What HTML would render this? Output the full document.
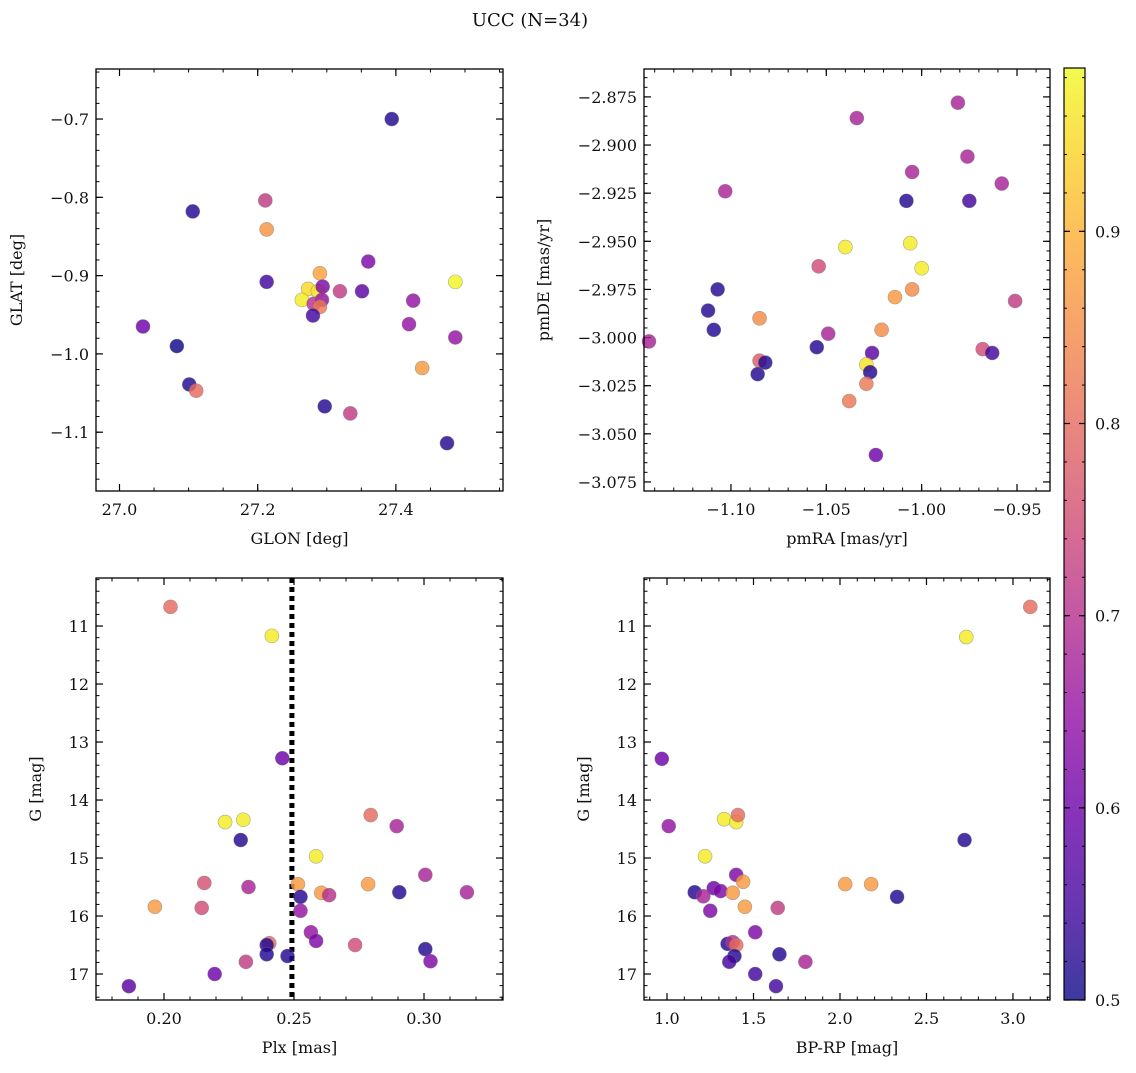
<!DOCTYPE html>
<html><head><meta charset="utf-8"><style>
body{margin:0;background:#fff}
svg text{font-family:"DejaVu Serif","Liberation Serif",serif;fill:#111}
</style></head><body>
<svg id="fig" width="1136" height="1068" viewBox="0 0 1136 1068" xmlns="http://www.w3.org/2000/svg">
<defs><linearGradient id="cbg" x1="0" y1="1" x2="0" y2="0"></linearGradient></defs>
<text x="530" y="26" font-size="18" text-anchor="middle">UCC (N=34)</text>
</svg>
<script>
// Panel 1: GLON / GLAT
const glon=[27.394,27.106,27.211,27.213,27.360,27.213,27.290,27.273,27.264,27.287,27.294,27.319,27.293,27.281,27.290,27.280,27.351,27.425,27.486,27.419,27.486,27.034,27.083,27.101,27.111,27.438,27.297,27.334,27.474];
const glat=[-0.700,-0.818,-0.804,-0.841,-0.882,-0.908,-0.897,-0.917,-0.931,-0.920,-0.914,-0.920,-0.931,-0.936,-0.940,-0.951,-0.920,-0.932,-0.908,-0.962,-0.979,-0.965,-0.990,-1.039,-1.047,-1.018,-1.067,-1.076,-1.114];
const prob1=[0.52,0.52,0.72,0.86,0.62,0.55,0.88,0.95,0.97,0.96,0.62,0.72,0.65,0.7,0.82,0.55,0.58,0.65,0.98,0.65,0.65,0.6,0.5,0.52,0.8,0.87,0.52,0.72,0.52];
// Panel 2: pmRA / pmDE
const pmra=[-0.981,-1.034,-0.976,-1.005,-0.958,-1.103,-1.008,-0.975,-1.040,-1.006,-1.000,-1.054,-1.107,-1.014,-1.005,-1.112,-0.951,-1.085,-1.109,-1.049,-1.021,-1.143,-1.085,-1.055,-1.026,-0.968,-0.963,-1.082,-1.086,-1.029,-1.027,-1.029,-1.038,-1.024];
const pmde=[-2.878,-2.886,-2.906,-2.914,-2.920,-2.924,-2.929,-2.929,-2.953,-2.951,-2.964,-2.963,-2.975,-2.979,-2.975,-2.986,-2.981,-2.990,-2.996,-2.998,-2.996,-3.002,-3.012,-3.005,-3.008,-3.006,-3.008,-3.013,-3.019,-3.014,-3.018,-3.024,-3.033,-3.061];
const prob2=[0.68,0.68,0.68,0.68,0.68,0.68,0.52,0.55,0.97,0.97,0.97,0.75,0.52,0.87,0.85,0.52,0.72,0.85,0.52,0.68,0.85,0.68,0.78,0.52,0.58,0.75,0.55,0.52,0.52,0.96,0.52,0.82,0.82,0.6];
// Panel 3: Plx / G
const plx=[0.2025,0.2415,0.2455,0.2235,0.2305,0.2295,0.2795,0.2895,0.2585,0.2155,0.2515,0.2785,0.3005,0.2325,0.2605,0.2635,0.2525,0.2905,0.3165,0.1965,0.2145,0.2525,0.2565,0.2585,0.2735,0.2405,0.2395,0.2395,0.2475,0.3005,0.3025,0.2315,0.2195,0.1865];
const gmag3=[10.67,11.17,13.28,14.38,14.34,14.69,14.26,14.45,14.97,15.43,15.45,15.45,15.29,15.50,15.60,15.64,15.67,15.59,15.59,15.84,15.86,15.91,16.28,16.43,16.50,16.47,16.50,16.66,16.69,16.57,16.78,16.79,17.00,17.21];
const prob3=[0.8,0.97,0.6,0.97,0.97,0.52,0.8,0.68,0.97,0.76,0.87,0.87,0.68,0.68,0.87,0.7,0.52,0.52,0.68,0.87,0.75,0.65,0.65,0.62,0.75,0.8,0.52,0.52,0.52,0.52,0.62,0.72,0.6,0.58];
const plxLine=[0.2492];
// Panel 4: BP-RP / G
const bprp=[3.10,2.73,0.97,1.01,1.33,1.40,1.41,2.72,1.22,1.40,1.44,2.03,2.18,1.16,1.27,1.31,1.38,1.21,2.33,1.45,1.64,1.25,1.51,1.35,1.38,1.40,1.39,1.65,1.36,1.80,1.51,1.63];
const gmag4=[10.67,11.19,13.29,14.45,14.33,14.38,14.26,14.69,14.97,15.29,15.41,15.45,15.45,15.59,15.52,15.57,15.60,15.66,15.67,15.84,15.86,15.91,16.28,16.48,16.45,16.50,16.69,16.66,16.79,16.79,17.00,17.21];
const prob4=[0.8,0.97,0.6,0.65,0.97,0.97,0.8,0.52,0.97,0.62,0.87,0.87,0.87,0.52,0.6,0.62,0.87,0.68,0.52,0.87,0.72,0.62,0.62,0.52,0.7,0.8,0.52,0.52,0.55,0.68,0.55,0.55];
// ticks
const ticks1x=[27.0,27.2,27.4], ticks1y=[-0.7,-0.8,-0.9,-1.0,-1.1];
const ticks2x=[-1.10,-1.05,-1.00,-0.95], ticks2y=[-2.875,-2.900,-2.925,-2.950,-2.975,-3.000,-3.025,-3.050,-3.075];
const ticks3x=[0.20,0.25,0.30], ticksG=[11,12,13,14,15,16,17];
const ticks4x=[1.0,1.5,2.0,2.5,3.0], ticksCb=[0.5,0.6,0.7,0.8,0.9];
const cbMin=0.5, cbMax=0.985;

const NS="http://www.w3.org/2000/svg";
const svg=document.getElementById('fig');
function mk(tag,attrs,parent){const e=document.createElementNS(NS,tag);for(const k in attrs)e.setAttribute(k,attrs[k]);(parent||svg).appendChild(e);return e;}
const plasma=[[13,8,135],[65,4,157],[106,0,168],[143,13,164],[177,42,144],[204,71,120],[225,100,98],[242,132,75],[252,166,54],[252,206,37],[240,249,33]];
function cmap(t){t=Math.max(0,Math.min(1,t));const f=t*10,i=Math.min(9,Math.floor(f)),r=f-i;const a=plasma[i],b=plasma[i+1];return `rgb(${Math.round(a[0]+(b[0]-a[0])*r)},${Math.round(a[1]+(b[1]-a[1])*r)},${Math.round(a[2]+(b[2]-a[2])*r)})`;}
function pcol(p){return cmap((p-cbMin)/(cbMax-cbMin));}
const minus=s=>s.replace('-','\u2212');

function panel(o){
  const g=mk('g',{});
  
  
  const sx=v=>o.x0+(v-o.xd[0])/(o.xd[1]-o.xd[0])*(o.x1-o.x0);
  const sy=v=>o.y0+(v-o.yd[0])/(o.yd[1]-o.yd[0])*(o.y1-o.y0);
  const xs=Math.abs(o.xt[1]-o.xt[0]), ys=Math.abs(o.yt[1]-o.yt[0]);
  const xlo=Math.min(o.xd[0],o.xd[1]),xhi=Math.max(o.xd[0],o.xd[1]);
  const ylo=Math.min(o.yd[0],o.yd[1]),yhi=Math.max(o.yd[0],o.yd[1]);
  const mxs=xs/o.xsub, mys=ys/o.ysub;
  const xb=Math.min(...o.xt), yb=Math.min(...o.yt);
  for(let k=-60;k<=200;k++){const v=xb+k*mxs;if(v<xlo||v>xhi)continue;const x=sx(v);
    mk('line',{x1:x,x2:x,y1:o.y1,y2:o.y1-3.5,stroke:'#000','stroke-width':1},g);mk('line',{x1:x,x2:x,y1:o.y0,y2:o.y0+3.5,stroke:'#000','stroke-width':1},g);}
  for(let k=-60;k<=200;k++){const v=yb+k*mys;if(v<ylo||v>yhi)continue;const y=sy(v);
    mk('line',{x1:o.x0,x2:o.x0+3.5,y1:y,y2:y,stroke:'#000','stroke-width':1},g);mk('line',{x1:o.x1,x2:o.x1-3.5,y1:y,y2:y,stroke:'#000','stroke-width':1},g);}
  o.xt.forEach(v=>{const x=sx(v);
    mk('line',{x1:x,x2:x,y1:o.y1,y2:o.y1-7,stroke:'#000','stroke-width':1.2},g);mk('line',{x1:x,x2:x,y1:o.y0,y2:o.y0+7,stroke:'#000','stroke-width':1.2},g);
    const t=mk('text',{x:x,y:o.y1+24,'font-size':16,'text-anchor':'middle'},g);t.textContent=minus(v.toFixed(o.xf));
    
    });
  o.yt.forEach(v=>{const y=sy(v);
    mk('line',{x1:o.x0,x2:o.x0+7,y1:y,y2:y,stroke:'#000','stroke-width':1.2},g);mk('line',{x1:o.x1,x2:o.x1-7,y1:y,y2:y,stroke:'#000','stroke-width':1.2},g);
    const t=mk('text',{x:o.x0-7,y:y+6,'font-size':16,'text-anchor':'end'},g);t.textContent=minus(v.toFixed(o.yf));
    
    });
  if(o.vline){o.vline.forEach(v=>{const l=mk('line',{x1:sx(v),x2:sx(v),y1:o.y0,y2:o.y1,stroke:'#000','stroke-width':5,'stroke-dasharray':'5 4'},g);
    
    });}
  o.xs.forEach((v,i)=>{const c=mk('circle',{cx:sx(v),cy:sy(o.ys[i]),r:7,fill:pcol(o.ps[i]),'fill-opacity':0.82,stroke:'#777','stroke-opacity':0.6,'stroke-width':0.6},g);
    
    });
  mk('rect',{x:o.x0,y:o.y0,width:o.x1-o.x0,height:o.y1-o.y0,fill:'none',stroke:'#000','stroke-width':1.3},g);
  const xt=mk('text',{x:(o.x0+o.x1)/2,y:o.y1+53,'font-size':16,'text-anchor':'middle'},g);xt.textContent=o.xl;
  
  
  const cy=(o.y0+o.y1)/2, cx=o.x0-o.ylo;
  const yt=mk('text',{x:cx,y:cy,'font-size':16,'text-anchor':'middle',transform:`rotate(-90 ${cx} ${cy})`},g);yt.textContent=o.yl;
  
  
}
panel({name:'glon-glat-panel',x0:96,x1:503,y0:69,y1:491,xd:[26.966,27.555],yd:[-0.6361,-1.1751],xt:ticks1x,yt:ticks1y,xsub:4,ysub:5,xf:1,yf:1,xs:glon,ys:glat,ps:prob1,xl:'GLON [deg]',yl:'GLAT [deg]',ylo:74});
panel({name:'proper-motion-panel',x0:644,x1:1050,y0:69,y1:491,xd:[-1.1456,-0.9327],yd:[-2.8605,-3.0797],xt:ticks2x,yt:ticks2y,xsub:5,ysub:5,xf:2,yf:3,xs:pmra,ys:pmde,ps:prob2,xl:'pmRA [mas/yr]',yl:'pmDE [mas/yr]',ylo:95});
panel({name:'plx-g-panel',x0:96,x1:503,y0:578,y1:1000,xd:[0.17385,0.33038],yd:[10.172,17.448],xt:ticks3x,yt:ticksG,xsub:5,ysub:5,xf:2,yf:0,xs:plx,ys:gmag3,ps:prob3,xl:'Plx [mas]',yl:'G [mag]',ylo:55,vline:plxLine});
panel({name:'cmd-panel',x0:644,x1:1050,y0:578,y1:1000,xd:[0.867,3.214],yd:[10.172,17.448],xt:ticks4x,yt:ticksG,xsub:5,ysub:5,xf:1,yf:0,xs:bprp,ys:gmag4,ps:prob4,xl:'BP-RP [mag]',yl:'G [mag]',ylo:55});
// colorbar
const grad=document.getElementById('cbg');
for(let i=0;i<=10;i++){mk('stop',{offset:i/10,'stop-color':cmap(i/10)},grad);}
const cb=mk('g',{});


const cbx0=1064,cbx1=1085,cby0=68,cby1=1000;
mk('rect',{x:cbx0,y:cby0,width:cbx1-cbx0,height:cby1-cby0,fill:'url(#cbg)','fill-opacity':0.8},cb);
const cy=v=>cby1-(v-cbMin)/(cbMax-cbMin)*(cby1-cby0);
for(let k=0;k<=24;k++){const v=0.5+k*0.02;if(v>cbMax)break;const y=cy(v);mk('line',{x1:cbx1,x2:cbx1-3,y1:y,y2:y,stroke:'#000'},cb);mk('line',{x1:cbx0,x2:cbx0+3,y1:y,y2:y,stroke:'#000'},cb);}
ticksCb.forEach(v=>{const y=cy(v);mk('line',{x1:cbx1,x2:cbx1-6,y1:y,y2:y,stroke:'#000','stroke-width':1.2},cb);mk('line',{x1:cbx0,x2:cbx0+6,y1:y,y2:y,stroke:'#000','stroke-width':1.2},cb);
  const t=mk('text',{x:cbx1+10,y:y+6,'font-size':16},cb);t.textContent=v.toFixed(1);
  
  });
mk('rect',{x:cbx0,y:cby0,width:cbx1-cbx0,height:cby1-cby0,fill:'none',stroke:'#000','stroke-width':1.2},cb);
</script>
</body></html>
